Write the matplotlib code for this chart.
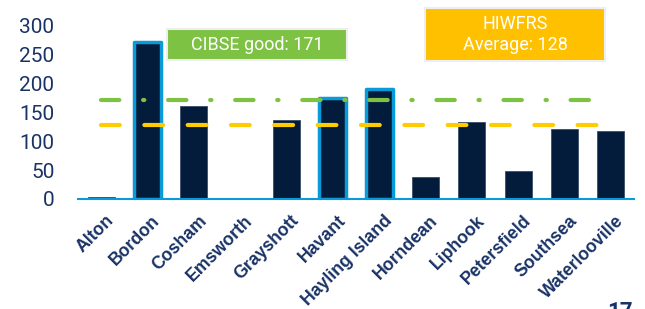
import numpy as np
import matplotlib.pyplot as plt
import matplotlib.transforms as mtransforms
from matplotlib.patches import Rectangle

# dados
estacoes = ['Alton', 'Bordon', 'Cosham', 'Emsworth', 'Grayshott', 'Havant',
            'Hayling Island', 'Horndean', 'Liphook', 'Petersfield', 'Southsea',
            'Waterlooville']
valores = [3, 270, 160, 0, 137, 174, 190, 38, 132, 48, 121, 118]
destaque = ['Bordon', 'Havant', 'Hayling Island']
cibse_bom = 171
media_hiwfrs = 128

navy = '#041c3c'
azul = '#0a9ad8'
verde = '#7dc242'
amarelo = '#ffc000'
amarelo_linha = '#ffcc00'
texto = '#1a3366'

plt.rcParams['font.family'] = ['Roboto', 'DejaVu Sans']

fig = plt.figure(figsize=(6.45, 3.09), dpi=100)
ax = fig.add_axes([0.121, 0.356, 0.862, 0.563])

x = np.arange(len(estacoes))
for xi, v, nome in zip(x, valores, estacoes):
    if nome in destaque:
        ax.bar(xi, v, width=0.58, color=navy, edgecolor=azul, linewidth=2.5,
               zorder=3, joinstyle='round')
    else:
        ax.bar(xi, v, width=0.58, color=navy, edgecolor='#3a4d6a',
               linewidth=0.6, zorder=3)

# linhas de referência
ax.plot([x[0], x[-1]], [cibse_bom, cibse_bom], color=verde, linewidth=3,
        dashes=(4.4, 5.7, 0.3, 5.7), dash_capstyle='round', zorder=4)
ax.plot([x[0], x[-1]], [media_hiwfrs, media_hiwfrs], color=amarelo_linha,
        linewidth=3, dashes=(4.5, 5.9), dash_capstyle='round', zorder=4)

ax.set_xlim(-0.5, len(estacoes) - 0.5)
ax.set_ylim(0, 300)
ax.set_yticks([0, 50, 100, 150, 200, 250, 300])
ax.tick_params(axis='y', length=0, pad=17, labelsize=15, labelcolor=texto)
ax.tick_params(axis='x', length=0, pad=9.5)
ax.set_xticks(x)
ax.set_xticklabels(estacoes, rotation=45, ha='right', rotation_mode='anchor',
                   va='top', fontsize=12.7, fontweight='bold', color=texto,
                   family=['Liberation Sans', 'DejaVu Sans'])
# empurra os rótulos um pouco para a direita
desloc = mtransforms.ScaledTranslation(3 / 72, 0, fig.dpi_scale_trans)
for lbl in ax.get_xticklabels():
    lbl.set_transform(lbl.get_transform() + desloc)

for lado in ['top', 'right', 'left']:
    ax.spines[lado].set_visible(False)
ax.spines['bottom'].set_color(azul)
ax.spines['bottom'].set_linewidth(1.5)
ax.spines['bottom'].set_zorder(5)

# caixas de texto
def caixa(x0, y0, w, h, cor, txt):
    fig.patches.append(Rectangle((x0 / 645, 1 - (y0 + h) / 309), w / 645, h / 309,
                                 transform=fig.transFigure, facecolor=cor,
                                 edgecolor='#eeeeee', linewidth=1.5))
    fig.text((x0 + w / 2) / 645, 1 - (y0 + h / 2) / 309, txt, color='white',
             ha='center', va='center', fontsize=13, linespacing=1.25)

caixa(167, 29, 180, 31, verde, 'CIBSE good: %d' % cibse_bom)
caixa(425, 8, 180, 53, amarelo, 'HIWFRS\nAverage: %d' % media_hiwfrs)

fig.text(633 / 645, 1 - 301 / 309, '17', ha='right', va='top', fontsize=16,
         fontweight='bold', color=texto)

fig.savefig('out.png', dpi=100)
